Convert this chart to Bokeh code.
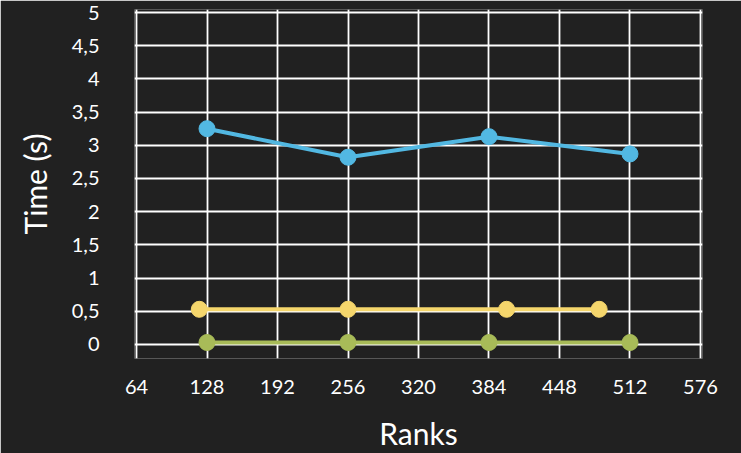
from bokeh.plotting import figure
from bokeh.models import FixedTicker, Range1d
from bokeh.embed import file_html
from bokeh.resources import INLINE

# Data
ranks_a = [128, 256, 384, 512]
time_blue = [3.25, 2.82, 3.13, 2.87]
ranks_b = [121, 256, 400, 484]
time_yellow = [0.53, 0.53, 0.53, 0.53]
ranks_c = [128, 256, 384, 512]
time_green = [0.03, 0.03, 0.03, 0.03]

x_ticks = [64, 128, 192, 256, 320, 384, 448, 512, 576]
y_ticks = [0, 0.5, 1, 1.5, 2, 2.5, 3, 3.5, 4, 4.5, 5]
y_labels = ["0", "0,5", "1", "1,5", "2", "2,5", "3", "3,5", "4", "4,5", "5"]

BG = "#212121"
FONT = "Lato"

p = figure(width=741, height=453, output_backend="svg", toolbar_location=None,
           x_range=Range1d(62.18, 577.82), y_range=Range1d(-0.211, 5.045),
           min_border_left=134, min_border_right=39, min_border_top=9, min_border_bottom=95)
p.background_fill_color = BG
p.border_fill_color = BG
p.outline_line_color = None

for ax in (p.xaxis, p.yaxis):
    ax.axis_line_color = None
    ax.major_tick_line_color = None
    ax.minor_tick_line_color = None
    ax.major_label_text_color = "white"
    ax.major_label_text_font = FONT
    ax.major_label_text_font_size = "20px"
    ax.axis_label_text_color = "white"
    ax.axis_label_text_font = FONT
    ax.axis_label_text_font_size = "30px"
    ax.axis_label_text_font_style = "normal"

p.xaxis.ticker = FixedTicker(ticks=x_ticks)
p.yaxis.ticker = FixedTicker(ticks=y_ticks)
p.yaxis.major_label_overrides = {t: l for t, l in zip(y_ticks, y_labels)}
p.xaxis.major_label_standoff = 15
p.yaxis.major_label_standoff = 29
p.xaxis.axis_label = "Ranks"
p.yaxis.axis_label = "Time (s)"
p.xaxis.axis_label_standoff = 18
p.yaxis.axis_label_standoff = 16

p.xgrid.grid_line_color = "white"
p.ygrid.grid_line_color = "white"
p.xgrid.grid_line_width = 1.8
p.ygrid.grid_line_width = 1.8
p.xgrid.bounds = (0, 5)
p.ygrid.bounds = (64, 576)

series = [
    (ranks_a, time_blue, "#52b8e2"),
    (ranks_b, time_yellow, "#f5d66c"),
    (ranks_c, time_green, "#a8bb58"),
]
for xs, ys, c in series:
    p.line(xs, ys, line_color=c, line_width=4)
    p.scatter(xs, ys, size=16, fill_color=c, line_color=c)

open("out.html", "w").write(file_html(p, INLINE))
